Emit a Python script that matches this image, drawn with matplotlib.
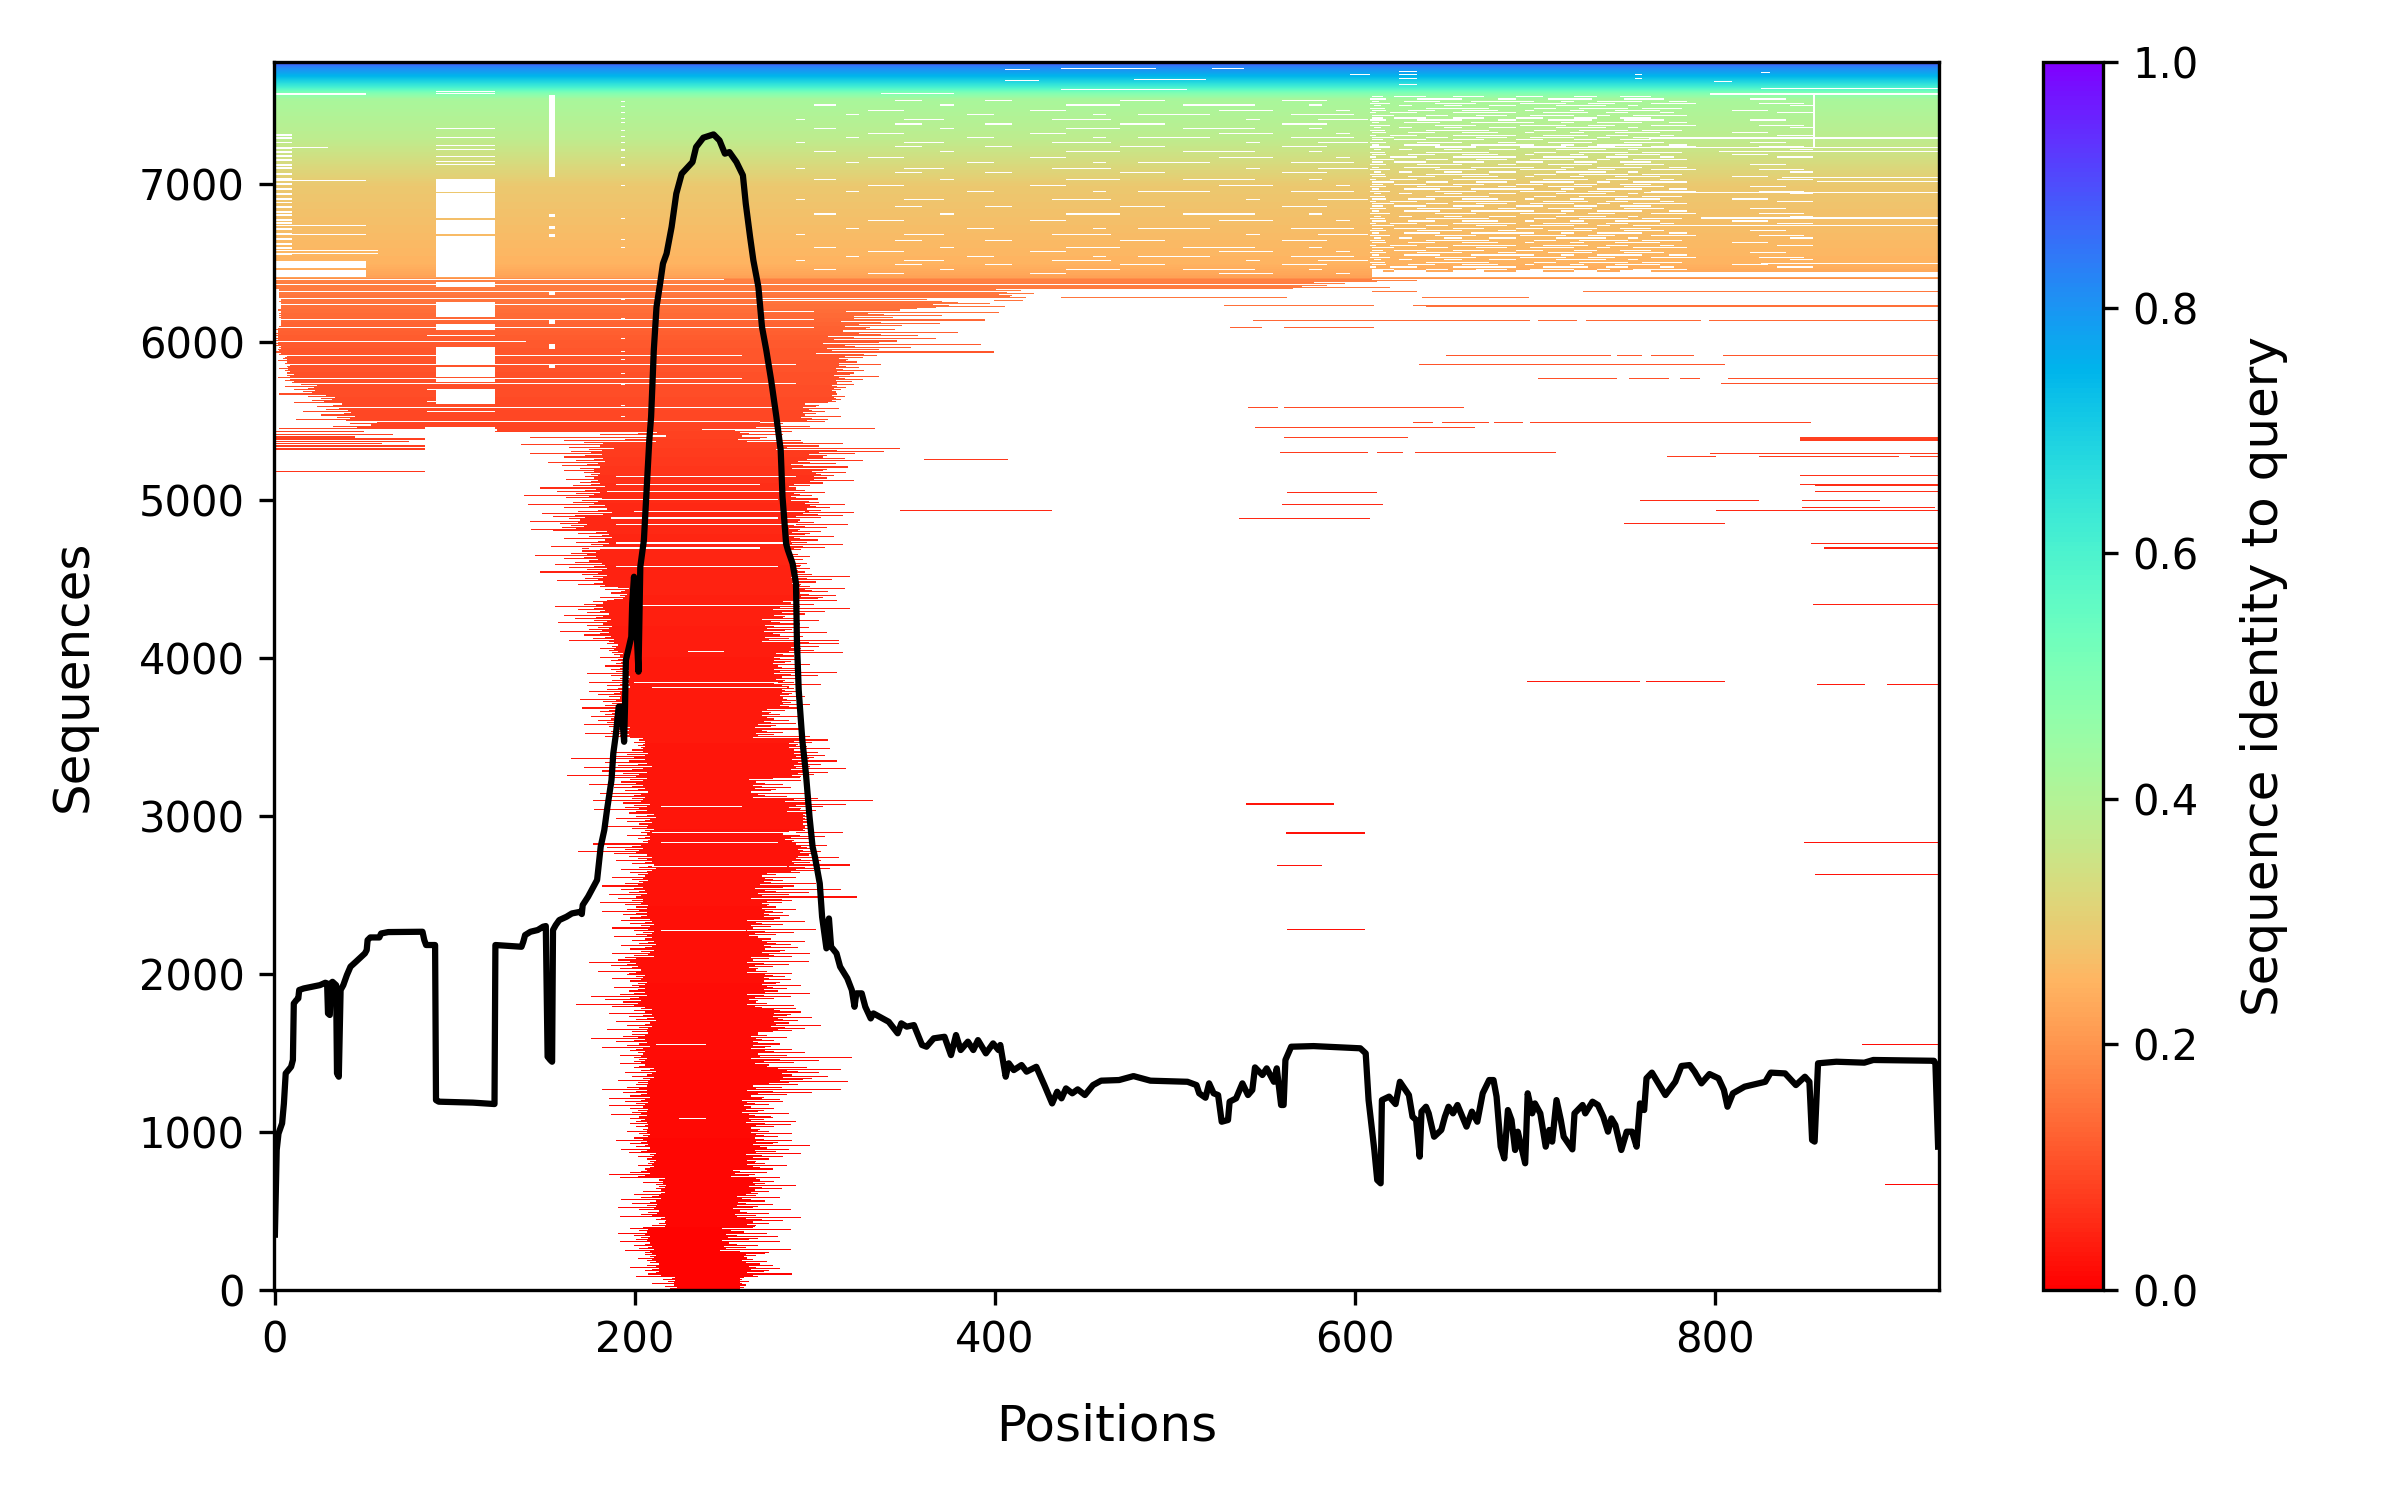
import numpy as np
import matplotlib
matplotlib.use("Agg")
import matplotlib.pyplot as plt

N_SEQ = 7776
N_POS = 925

# identity of a sequence, by row
ID_Y = [0, 1000, 2000, 3000, 4000, 5000, 5500, 6000, 6400, 6410, 6500, 7000, 7300, 7540, 7580, 7620, 7680, 7740, 7776]
ID_V = [0.005, 0.012, 0.02, 0.028, 0.035, 0.055, 0.09, 0.115, 0.17, 0.22, 0.25, 0.29, 0.38, 0.42, 0.5, 0.62, 0.74, 0.82, 0.90]

# envelope of the aligned block: row, outer left, inner left, inner right, outer right
ENV_Y = [0, 84, 168, 232, 316, 400, 464, 538, 611, 707, 759, 865, 970, 1055, 1097, 1202, 1308, 1413, 1519, 1635, 1783,
         1878, 2004, 2110, 2215, 2342, 2468, 2584, 2638, 2743, 2838, 2912, 3028, 3113, 3239, 3408, 3493, 3587, 3682,
         3809, 3925, 4031, 4104, 4252, 4368, 4453, 4537, 4600, 4695, 4811, 4906, 4990, 5107, 5191, 5254, 5318, 5370,
         5430, 5450, 5500, 5560, 5620, 5680, 5740, 5800, 5860, 5920, 5980, 6040, 6100, 6160, 6220, 6280, 6340, 6380, 6400]
ENV_LO = [210, 198, 202, 191, 191, 208, 191, 188, 205, 181, 202, 189, 196, 191, 186, 181, 191, 192, 175, 185, 168,
          188, 174, 188, 188, 181, 181, 188, 189, 169, 196, 185, 177, 174, 163, 199, 172, 172, 170,
          174, 181, 181, 158, 155, 181, 156, 148, 144, 154, 142, 139, 139, 161, 144, 140, 137, 123,
          123, 0, 12, 10, 3, 2, 2, 3, 1, 0, 0, 0, 3, 2, 3, 3, 0, 0, 0]
ENV_LI = [225, 216, 213, 212, 210, 219, 216, 216, 219, 210, 213, 210, 210, 208, 210, 210, 213, 208, 210, 213, 208,
          208, 205, 213, 213, 210, 208, 210, 213, 209, 211, 213, 211, 209, 211, 207, 200, 192, 196,
          200, 196, 192, 190, 187, 198, 187, 189, 183, 189, 176, 189, 185, 183, 185, 187, 192, 220,
          125, 60, 48, 42, 36, 25, 12, 10, 8, 5, 3, 3, 5, 5, 5, 4, 1, 0, 0]
ENV_RI = [259, 262, 260, 247, 247, 262, 253, 256, 264, 253, 262, 264, 264, 262, 259, 262, 279, 264, 264, 276, 262,
          270, 262, 270, 262, 270, 264, 270, 285, 290, 283, 294, 283, 263, 287, 285, 266, 270, 281,
          277, 276, 285, 270, 276, 290, 287, 289, 285, 285, 283, 294, 285, 298, 283, 294, 277, 256,
          219, 265, 293, 293, 310, 310, 310, 310, 313, 298, 300, 313, 313, 313, 361, 400, 565, 609, 925]
ENV_RO = [264, 293, 279, 287, 301, 293, 293, 290, 290, 287, 293, 304, 297, 290, 291, 315, 327, 321, 293, 304, 298,
          298, 297, 304, 301, 297, 324, 297, 320, 313, 316, 301, 333, 303, 318, 318, 298, 303, 298,
          313, 303, 327, 314, 320, 327, 320, 300, 303, 316, 331, 322, 314, 322, 342, 359, 348, 300,
          358, 358, 315, 318, 320, 322, 341, 340, 345, 400, 410, 403, 395, 420, 435, 450, 620, 640, 925]

# how far each pixel row reaches into the fringe
FRINGE_L = [.1, .3, .05, .5, .2, 1, .15, .35, .08, .6, .25, .12, .8, .02, .4, .18, .07, .55, .28, .1, .95, .22, .45]
FRINGE_R = [.2, .06, .45, .15, .7, .3, .03, 1, .12, .38, .09, .55, .25, .16, .85, .05, .33, .42, .1, .62, .2, .08, .5, .27, .14, .75, .04, .36, .18]

# separate aligned segments: row, first, last position
SEGMENTS = [
    (6404, 609, 925), (6366, 756, 925), (6321, 609, 635), (6321, 727, 925), (6283, 437, 563), (6283, 638, 697),
    (6233, 528, 611), (6233, 633, 925), (6226, 640, 925), (6136, 544, 698), (6136, 702, 724), (6136, 729, 793), (6136, 797, 925),
    (6093, 531, 549), (6093, 561, 611), (5912, 651, 743), (5912, 746, 760), (5912, 765, 789), (5912, 805, 925),
    (5855, 636, 806), (5771, 702, 746), (5771, 753, 775), (5771, 781, 792), (5771, 808, 925), (5739, 804, 925),
    (5587, 541, 558), (5587, 561, 661), (5492, 633, 644), (5492, 649, 675), (5492, 678, 694), (5492, 698, 854),
    (5460, 545, 667), (5397, 561, 630), (5397, 848, 925), (5390, 848, 925), (5383, 848, 925), (5376, 848, 925),
    (5302, 559, 608), (5302, 613, 627), (5302, 634, 712), (5296, 798, 925), (5277, 774, 801), (5277, 825, 903), (5277, 909, 925),
    (5152, 848, 925), (5097, 848, 925), (5090, 856, 925), (5055, 856, 925), (5049, 563, 613), (4998, 759, 825), (4998, 849, 892),
    (4973, 560, 616), (4952, 849, 923), (4935, 801, 925), (4880, 536, 609), (4849, 750, 806), (4726, 854, 925), (4695, 861, 925),
    (3850, 696, 759), (3850, 762, 806), (4335, 855, 925), (3830, 857, 884), (3830, 896, 925), (3074, 540, 589),
    (2895, 562, 606), (2888, 562, 606), (2832, 850, 925), (2687, 557, 582), (2628, 856, 925), (2279, 563, 606),
    (1552, 882, 925), (665, 895, 925), (4935, 348, 432), (5258, 361, 408), (5182, 0, 84),
    (5430, 0, 50), (5412, 0, 66), (5398, 0, 45), (5385, 0, 84), (5370, 0, 75), (5356, 0, 60), (5345, 0, 84), (5335, 0, 84), (5325, 0, 84), (5318, 0, 84),
]

# white rectangles: first row, last row, first, last position
GAP_BLOCKS = [
    (6414, 6446, 610, 925), (6340, 6400, 640, 925), (5360, 5465, 84, 123), (6953, 7037, 90, 123), (6790, 6945, 90, 123), (6684, 6778, 90, 123),
    (6414, 6672, 90, 123), (6351, 6382, 90, 123), (6161, 6256, 90, 123), (6077, 6119, 90, 123), (5866, 5971, 90, 123),
    (5781, 5845, 90, 123), (5750, 5771, 90, 123), (5612, 5697, 90, 123), (6414, 6460, 0, 51), (6470, 6515, 0, 51), (7047, 7564, 153, 156),
    (6794, 6815, 153, 156), (6720, 6740, 153, 156), (6668, 6690, 153, 156), (6300, 6320, 153, 156), (6120, 6140, 153, 156),
    (5960, 5990, 153, 156), (5840, 5860, 153, 156), (7238, 7570, 855, 856),
]
# white rows: row, first, last position
GAP_ROWS = [
    (7570, 0, 51), (7585, 90, 123), (7575, 90, 123), (7353, 90, 123), (7296, 90, 123), (7241, 90, 123), (7216, 90, 123), (7174, 90, 123),
    (7142, 90, 123), (7121, 90, 123), (7020, 0, 51), (7233, 0, 30), (6740, 0, 51), (6680, 0, 51), (6580, 0, 58), (6560, 0, 58),
    (6397, 0, 250), (6361, 0, 925), (6319, 0, 610), (6277, 0, 925), (6235, 0, 270), (6140, 0, 300), (6093, 0, 300), (6003, 0, 140),
    (5912, 0, 260), (5855, 0, 290), (5771, 0, 260), (5739, 0, 290), (5587, 0, 280), (5496, 0, 270),
    (6260, 270, 400), (6190, 270, 300), (6040, 85, 123), (5700, 85, 123), (5620, 85, 123), (5560, 85, 123),
    (5149, 190, 290), (5096, 190, 270), (5054, 185, 290), (5001, 180, 280), (4927, 200, 295), (4885, 187, 280), (4843, 190, 290),
    (4727, 190, 285), (4695, 175, 270), (4579, 190, 280), (4330, 200, 290), (4041, 230, 250), (3841, 200, 280), (3809, 210, 285),
    (3060, 215, 260), (2891, 210, 290), (2828, 215, 280), (2680, 210, 285), (2272, 215, 262), (1551, 212, 240), (1080, 225, 240),
    (7606, 826, 925), (7570, 798, 925), (7296, 764, 925), (7289, 764, 925), (7233, 706, 925), (7205, 803, 925), (7043, 838, 925), (7015, 857, 925),
    (6946, 761, 925), (6788, 793, 925), (6781, 793, 925), (6737, 761, 925), (6499, 826, 925),
    (7733, 437, 490), (7733, 521, 539), (7726, 406, 420), (7659, 478, 518), (7600, 437, 507), (7653, 406, 425), (7575, 337, 378),
    (7691, 598, 609), (7712, 625, 635), (7691, 625, 635), (7670, 625, 635), (7630, 625, 635), (7691, 756, 760), (7670, 756, 760),
    (7705, 826, 831), (7650, 800, 810),
]
# short gaps at the left edge and in the thin columns
LEFT_EDGE_ROWS = [7310, 7290, 7260, 7225, 7200, 7175, 7150, 7120, 7100, 7060, 7030, 7000, 6965, 6935, 6905, 6880, 6850, 6820, 6800, 6770, 6750, 6715, 6680, 6650, 6620, 6590, 6555]
COLUMN_195_ROWS = [7520, 7490, 7450, 7415, 7390, 7340, 7300, 7260, 7215, 7170, 7120, 6990, 6780, 6650, 6600, 6270, 6150, 6090, 6020, 5940, 5890, 5800, 5730, 5600, 5530]

# dashes in the textured part of the upper band
DENSE_ROWS = [7552, 7538, 7522, 7510, 7495, 7478, 7463, 7452, 7434, 7418, 7405, 7389, 7370, 7358, 7340, 7325, 7308, 7295, 7280, 7262,
              7247, 7234, 7216, 7200, 7186, 7170, 7155, 7138, 7124, 7106, 7092, 7075, 7060, 7046, 7030, 7012, 6998, 6985, 6967, 6950,
              6938, 6920, 6905, 6890, 6874, 6860, 6842, 6828, 6812, 6795, 6782, 6765, 6750, 6735, 6718, 6704, 6690, 6672, 6658, 6642,
              6628, 6610, 6597, 6580, 6565, 6550, 6534, 6520, 6504, 6490, 6474, 6460, 6448]
DENSE_SETS = [
    [(610, 616), (622, 640), (655, 672), (690, 705), (722, 735), (748, 765)],
    [(609, 618), (635, 660), (680, 690), (708, 732), (750, 772), (820, 840)],
    [(610, 614), (628, 648), (665, 700), (715, 722), (735, 760), (775, 785)],
    [(609, 620), (645, 668), (692, 718), (730, 745), (765, 790), (825, 850)],
    [(611, 615), (625, 632), (650, 660), (675, 690), (712, 740), (752, 758), (842, 855)],
    [(609, 617), (640, 675), (700, 712), (725, 752), (760, 782)],
    [(610, 618), (630, 645), (660, 680), (695, 700), (720, 728), (745, 770), (810, 830)],
    [(609, 612), (620, 635), (655, 690), (705, 730), (740, 752), (770, 778), (835, 855)],
    [(610, 622), (640, 652), (668, 685), (698, 722), (735, 742), (755, 785)],
]
SPARSE_ROWS = [7530, 7500, 7465, 7440, 7410, 7380, 7350, 7320, 7295, 7260, 7235, 7205, 7170, 7135, 7100, 7070, 7030, 6990, 6950, 6900,
               6860, 6810, 6770, 6720, 6680, 6640, 6600, 6570, 6540, 6515, 6490, 6460, 6435]
SPARSE_SETS = [
    [(345, 360), (395, 410), (470, 495), (560, 585)],
    [(300, 312), (370, 378), (440, 470), (505, 545), (575, 582)],
    [(330, 350), (420, 440), (525, 555), (590, 598)],
    [(318, 325), (385, 400), (455, 462), (480, 520), (565, 600)],
    [(290, 295), (350, 372), (432, 465), (540, 548), (580, 608)],
]

# number of sequences covering each position
COV_X = [0, 1, 2, 4, 5, 6, 9, 10, 10.5, 12, 13, 13.5, 16, 25, 28, 29, 29.5, 30.5, 31, 32, 34, 34.5, 35.5, 36.5, 38, 40, 42, 45, 48, 50, 51, 51.5,
         53, 58, 59, 63, 82, 83, 84, 89, 89.5, 91, 110, 122, 122.5, 137, 138, 139, 142, 146, 149, 150.5, 151.5, 153, 154, 154.5, 156, 158, 162, 165,
         170, 170.5, 171, 174, 176, 178, 179, 181, 183, 184.5, 187, 188, 189.5, 191, 192.5, 194, 194.5, 195, 198, 198.5, 199.5, 202, 203, 205, 207, 208,
         209, 210.5, 212, 214, 215.6, 217.6, 220.4, 223, 226, 232, 234, 238, 243.7, 247, 250, 252.5, 256.4, 260, 261.6, 264, 265.8, 268.6, 270.6, 273,
         275.7, 278.6, 281, 282, 284, 285, 287.6, 289.5, 290, 291, 293, 295, 297, 298.7, 300, 302.7, 304, 306.4, 307.8, 309, 312, 314, 318, 320.5, 322,
         323, 326, 328, 331, 332.5, 341, 346, 348, 351, 355, 359.5, 362, 366, 372, 375.6, 378.4, 381, 385, 388, 390.6, 395, 399, 402, 403, 406, 407.7,
         410.5, 414.8, 417.6, 423, 427.5, 431.8, 434.6, 437, 439.5, 443, 446, 450, 454.5, 459, 469, 477, 486.4, 507, 512, 513.5, 517, 519, 521.5, 524,
         526, 529.5, 530.4, 534, 537.5, 540.6, 543, 544.5, 548.6, 551, 555, 556.6, 559, 560.4, 561.4, 564.6, 577, 603, 606, 607.6, 610.8, 612.4, 614.3,
         615, 619, 622.6, 625, 630, 632, 634, 636, 637, 639.5, 641, 644, 648, 650, 652, 654.5, 657, 662, 665, 668, 671, 674.6, 677, 678.7, 681, 683,
         685, 687, 689, 690.5, 694.6, 696, 698.5, 700, 703, 706, 708, 709.6, 712, 714.4, 716, 720.8, 722, 726.5, 728, 732, 735, 738, 740.6, 742.5, 744.7,
         748, 751, 754, 756.5, 758.4, 760.7, 762, 765, 768.6, 772.5, 778, 781.4, 786, 788.7, 792.5, 797, 802, 805, 807, 810, 816.5, 824.4, 828, 831, 839,
         845, 850, 852.5, 854, 855.4, 857.3, 867.5, 883, 888, 921.7, 922.5, 924]
COV_Y = [350, 886, 990, 1055, 1180, 1371, 1413, 1456, 1814, 1836, 1846, 1899, 1909, 1930, 1945, 1941, 1751, 1741, 1941, 1951, 1930, 1371, 1350, 1899, 1930, 1994, 2047, 2078, 2110, 2131, 2152, 2215,
         2232, 2232, 2257, 2266, 2268, 2215, 2184, 2184, 1202, 1192, 1186, 1177, 2184, 2173, 2205, 2247, 2268, 2279, 2300, 2304, 1477, 1456, 1445, 2279, 2310, 2342, 2363, 2384,
         2395, 2380, 2437, 2490, 2532, 2574, 2596, 2807, 2912, 3039, 3229, 3398, 3524, 3693, 3693, 3471, 3693, 3988, 4136, 4347, 4516, 3915, 4579, 4748, 5170, 5381,
         5528, 5950, 6224, 6372, 6499, 6562, 6731, 6942, 7068, 7142, 7237, 7296, 7317, 7279, 7195, 7205, 7142, 7058, 6878, 6667, 6520, 6351, 6098, 5950,
         5760, 5528, 5317, 5022, 4726, 4685, 4600, 4474, 4115, 3798, 3482, 3271, 2997, 2807, 2743, 2574, 2363, 2163, 2352, 2173, 2131, 2047, 1973, 1899, 1793,
         1878, 1878, 1793, 1719, 1751, 1698, 1625, 1688, 1667, 1677, 1551, 1540, 1593, 1603, 1487, 1614, 1519, 1572, 1519, 1582, 1498, 1561, 1519, 1551, 1350, 1435,
         1392, 1424, 1382, 1413, 1297, 1181, 1255, 1213, 1276, 1245, 1270, 1234, 1297, 1325, 1329, 1354, 1325, 1318, 1297, 1245, 1217, 1308, 1245, 1234,
         1065, 1076, 1192, 1213, 1308, 1234, 1266, 1409, 1361, 1403, 1318, 1403, 1171, 1171, 1456, 1540, 1544, 1530, 1498, 1202, 885, 696, 675,
         1202, 1224, 1177, 1318, 1234, 1097, 1076, 844, 1129, 1160, 1118, 970, 1013, 1097, 1160, 1118, 1171, 1034, 1129, 1065, 1245, 1329, 1329, 1224, 907, 833,
         1139, 1076, 886, 1002, 802, 1245, 1118, 1181, 1118, 907, 1013, 939, 1202, 1076, 970, 890, 1118, 1171, 1118, 1192, 1171, 1097, 1002, 1086, 1044,
         886, 1002, 1002, 907, 1181, 1139, 1340, 1376, 1308, 1234, 1318, 1418, 1424, 1382, 1308, 1367, 1340, 1266, 1160, 1245, 1287, 1308, 1318, 1376, 1371,
         1297, 1350, 1318, 949, 939, 1435, 1445, 1439, 1456, 1451, 1435, 907]

X_TICKS = [0, 200, 400, 600, 800]
Y_TICKS = [0, 1000, 2000, 3000, 4000, 5000, 6000, 7000]
CBAR_TICKS = [0.0, 0.2, 0.4, 0.6, 0.8, 1.0]

# ---------------------------------------------------------------- raster
present = np.zeros((N_SEQ, N_POS), dtype=bool)
present[6410:, :] = True
LINE_ROWS = 7

env_y = np.array(ENV_Y)
for row in range(0, 6410):
    i = np.searchsorted(env_y, row, side="right") - 1
    g = row // LINE_ROWS
    lo, li, ri, ro = ENV_LO[i], ENV_LI[i], ENV_RI[i], ENV_RO[i]
    left = li - FRINGE_L[g % len(FRINGE_L)] * (li - lo)
    right = ri + FRINGE_R[g % len(FRINGE_R)] * (ro - ri)
    present[row, int(left):int(right)] = True

for y, x0, x1 in SEGMENTS:
    present[y:y + LINE_ROWS, x0:x1] = True
for y0, y1, x0, x1 in GAP_BLOCKS:
    present[y0:y1, x0:x1] = False
for y, x0, x1 in GAP_ROWS:
    present[y:y + LINE_ROWS, x0:x1] = False
for y in LEFT_EDGE_ROWS:
    present[y:y + 12, 0:10] = False
for y in COLUMN_195_ROWS:
    present[y:y + 7, 193:195] = False
for k, y in enumerate(DENSE_ROWS):
    for x0, x1 in DENSE_SETS[k % len(DENSE_SETS)]:
        present[y:y + 8, x0:x1] = False
for k, y in enumerate(SPARSE_ROWS):
    for x0, x1 in SPARSE_SETS[k % len(SPARSE_SETS)]:
        present[y:y + LINE_ROWS, x0:x1] = False

row_identity = np.interp(np.arange(N_SEQ), ID_Y, ID_V)
final = np.where(present, row_identity[:, None], np.nan)

# ---------------------------------------------------------------- figure
fig = plt.figure(figsize=(8, 5), dpi=300)
ax = fig.add_axes([274 / 2400, 1 - 1290 / 1500, (1939 - 274) / 2400, (1290 - 62) / 1500])
im = ax.imshow(final, interpolation="nearest", aspect="auto", cmap="rainbow_r", vmin=0, vmax=1, origin="lower")
ax.plot(COV_X, COV_Y, color="black", linewidth=1.5)
ax.set_xlim(-0.5, N_POS - 0.5)
ax.set_ylim(-0.5, N_SEQ - 0.5)
ax.set_xticks(X_TICKS)
ax.set_yticks(Y_TICKS)
ax.tick_params(labelsize=10)
ax.set_xlabel("Positions", fontsize=12, labelpad=10)
ax.set_ylabel("Sequences", fontsize=12, labelpad=10)

cax = fig.add_axes([2043 / 2400, 1 - 1290 / 1500, (2103 - 2043) / 2400, (1290 - 62) / 1500])
cb = fig.colorbar(im, cax=cax, ticks=CBAR_TICKS)
cb.ax.tick_params(labelsize=10)
cb.set_label("Sequence identity to query", fontsize=12, labelpad=10)

fig.savefig("out.png", dpi=300)
